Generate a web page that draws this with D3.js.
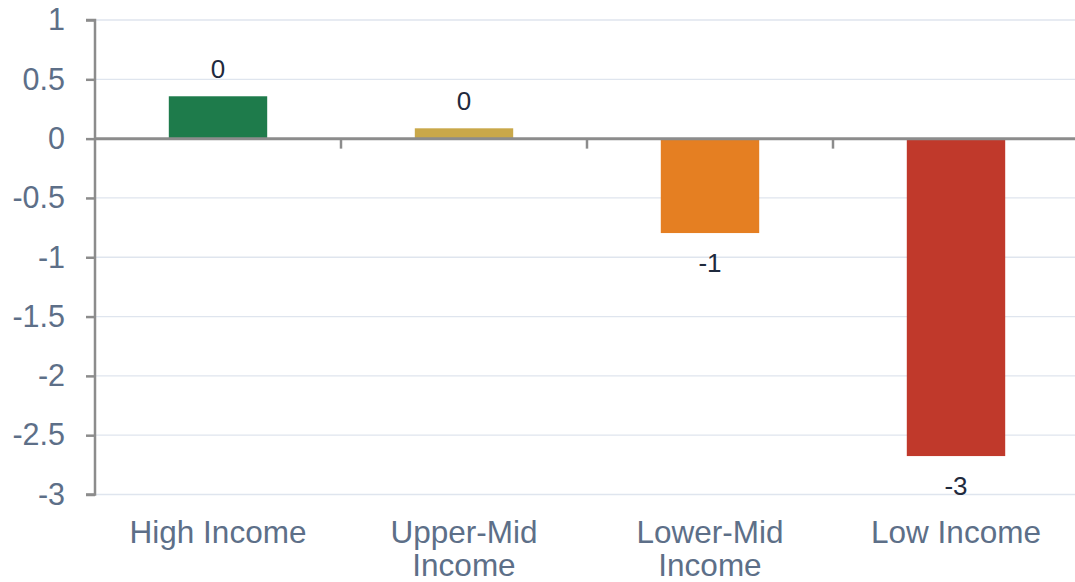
<!DOCTYPE html>
<html>
<head>
<meta charset="utf-8">
<script src="https://cdn.jsdelivr.net/npm/d3@7"></script>
<style>
  html, body { margin: 0; padding: 0; background: #fff; }
  svg { display: block; font-family: "Liberation Sans", Arial, sans-serif; }
</style>
</head>
<body>
<svg id="chart" width="1075" height="582"></svg>
<script>
// Income groups and their change values
const categories = ["High Income", "Upper-Mid Income", "Lower-Mid Income", "Low Income"];
const categoryLines = [["High Income"], ["Upper-Mid", "Income"], ["Lower-Mid", "Income"], ["Low Income"]];
const values = [0.357, 0.087, -0.796, -2.676];
const barColors = ["#1e7b4b", "#c9a84a", "#e57f22", "#c0392b"];
const yTicks = [1, 0.5, 0, -0.5, -1, -1.5, -2, -2.5, -3];

(function () {
  const svg = d3.select("#chart");
  const plotLeft = 95, plotRight = 1079, plotTop = 20, plotBottom = 494.5;

  const x = d3.scaleBand().domain(categories).range([plotLeft, plotRight]).paddingInner(0.6).paddingOuter(0.3);
  const xStep = d3.scaleBand().domain(categories).range([plotLeft, plotRight]).padding(0);
  const y = d3.scaleLinear().domain([-3, 1]).range([plotBottom, plotTop]);

  const axisColor = "#8c8c8c";
  const labelColor = "#5d6f88";

  // Gridlines
  svg.append("g")
    .selectAll("line")
    .data(yTicks)
    .join("line")
    .attr("x1", plotLeft).attr("x2", 1075)
    .attr("y1", d => y(d)).attr("y2", d => y(d))
    .attr("stroke", "#dfe5ee").attr("stroke-width", 1.3);

  // Bars
  svg.append("g")
    .selectAll("rect")
    .data(values)
    .join("rect")
    .attr("x", (d, i) => x(categories[i]))
    .attr("width", x.bandwidth())
    .attr("y", d => y(Math.max(0, d)))
    .attr("height", d => Math.abs(y(d) - y(0)))
    .attr("fill", (d, i) => barColors[i]);

  // Y axis
  const yAxis = svg.append("g")
    .attr("transform", `translate(${plotLeft},0)`)
    .call(d3.axisLeft(y).tickValues(yTicks).tickSize(9).tickPadding(21)
          .tickFormat(d3.format("")));
  yAxis.select(".domain").attr("stroke", axisColor).attr("stroke-width", 2.5)
    .attr("d", `M-9,${plotTop}H0V${plotBottom}H-9`);
  yAxis.selectAll(".tick line").attr("stroke", axisColor).attr("stroke-width", 2.5);
  yAxis.selectAll(".tick text")
    .attr("fill", labelColor).attr("font-size", 30.5)
    .attr("font-family", "'Liberation Sans', Arial, sans-serif")
    .text(d => d3.format("")(d).replace("−", "-"));

  // Category boundary ticks along the zero line
  svg.append("g")
    .selectAll("line")
    .data(categories.slice(1))
    .join("line")
    .attr("x1", d => xStep(d)).attr("x2", d => xStep(d))
    .attr("y1", y(0)).attr("y2", y(0) + 10)
    .attr("stroke", axisColor).attr("stroke-width", 2.5);

  // Zero line
  svg.append("line")
    .attr("x1", plotLeft).attr("x2", 1075)
    .attr("y1", y(0)).attr("y2", y(0))
    .attr("stroke", axisColor).attr("stroke-width", 3);

  // Category labels
  const catText = svg.append("g")
    .selectAll("text")
    .data(categories)
    .join("text")
    .attr("x", d => x(d) + x.bandwidth() / 2)
    .attr("y", 542.5)
    .attr("text-anchor", "middle")
    .attr("fill", labelColor)
    .attr("font-size", 31.5);
  catText.selectAll("tspan")
    .data((d, i) => categoryLines[i])
    .join("tspan")
    .attr("x", function () { return this.parentNode.getAttribute("x"); })
    .attr("dy", (d, i) => i === 0 ? 0 : 33.5)
    .text(d => d);

  // Value labels
  const fmt = d3.format(".0f");
  svg.append("g")
    .selectAll("text")
    .data(values)
    .join("text")
    .attr("x", (d, i) => x(categories[i]) + x.bandwidth() / 2)
    .attr("y", d => d >= 0 ? y(d) - 18 : y(d) + 39)
    .attr("text-anchor", "middle")
    .attr("fill", "#1f2a3d")
    .attr("font-size", 26)
    .text(d => fmt(d).replace("−", "-"));
})();
</script>
</body>
</html>
